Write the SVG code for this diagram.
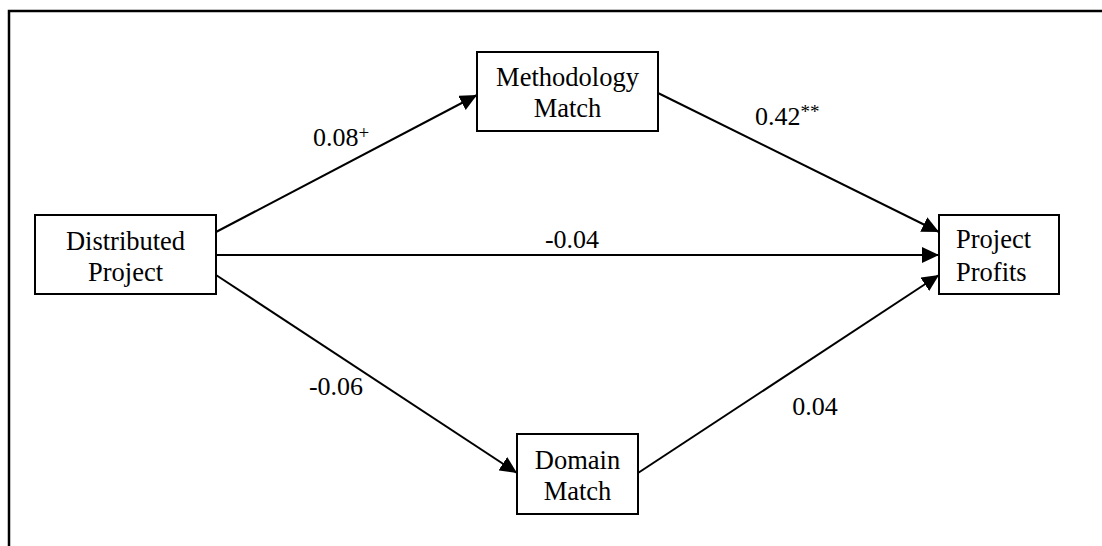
<svg xmlns="http://www.w3.org/2000/svg" width="1102" height="546" viewBox="0 0 1102 546">
<style>
.box{fill:#fff;stroke:#000;stroke-width:2}
.t{font-family:"Liberation Serif","Times New Roman",serif;font-size:26.5px;fill:#000;text-anchor:middle}
.lbl{font-family:"Liberation Serif","Times New Roman",serif;font-size:26px;fill:#000}
.sup{font-size:19px}
.edge{stroke:#000;stroke-width:2;fill:none;marker-end:url(#ah)}
.frame{stroke:#000;stroke-width:2.5;fill:none}
</style>
<defs>
<marker id="ah" markerWidth="17" markerHeight="16" refX="17" refY="8" orient="auto" markerUnits="userSpaceOnUse">
<path d="M0,0 L17,8 L0,16 Z" fill="#000"/>
</marker>
</defs>
<rect width="1102" height="546" fill="#fff"/>
<path class="frame" d="M9,546 L9,11 L1102,11"/>
<g id="connectors">
<line class="edge" x1="216" y1="232" x2="477" y2="95"/>
<line class="edge" x1="216" y1="255" x2="939" y2="255"/>
<line class="edge" x1="216" y1="275" x2="517" y2="473"/>
<line class="edge" x1="658" y1="93" x2="939" y2="232"/>
<line class="edge" x1="638" y1="473" x2="939" y2="275"/>
</g>
<g id="labels">
<text class="lbl" x="313" y="146">0.08<tspan class="sup" dy="-7">+</tspan></text>
<text class="lbl" x="755" y="125">0.42<tspan class="sup" dy="-7">**</tspan></text>
<text class="lbl" x="572" y="248" text-anchor="middle">-0.04</text>
<text class="lbl" x="336" y="395" text-anchor="middle">-0.06</text>
<text class="lbl" x="815" y="415" text-anchor="middle">0.04</text>
</g>
<g id="distributed-project">
<rect class="box" x="35" y="215" width="181" height="79"/>
<text class="t" x="125.5" y="250">Distributed</text>
<text class="t" x="125.5" y="281">Project</text>
</g>
<g id="methodology-match">
<rect class="box" x="477" y="52" width="181" height="79"/>
<text class="t" x="567.5" y="86">Methodology</text>
<text class="t" x="567.5" y="117">Match</text>
</g>
<g id="project-profits">
<rect class="box" x="939" y="215" width="120" height="79"/>
<text class="t" x="956" y="248" style="text-anchor:start">Project</text>
<text class="t" x="956" y="281" style="text-anchor:start">Profits</text>
</g>
<g id="domain-match">
<rect class="box" x="517" y="434" width="121" height="80"/>
<text class="t" x="577.5" y="469">Domain</text>
<text class="t" x="577.5" y="500">Match</text>
</g>
</svg>
